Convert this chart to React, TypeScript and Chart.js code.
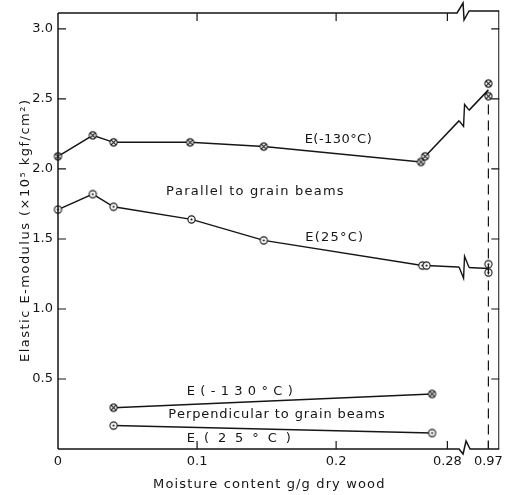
import { useEffect, useRef } from 'react';
import { Chart, registerables } from 'chart.js';

Chart.register(...registerables);

// Moisture content, g/g dry wood
const parallelColdMoisture = [0, 0.025, 0.04, 0.095, 0.148, 0.261, 0.264];
// Elastic E-modulus (×10⁵ kgf/cm²) along the grain, tested at -130 °C
const parallelColdModulus = [2.09, 2.24, 2.19, 2.19, 2.16, 2.05, 2.09];
const parallelWarmMoisture = [0, 0.025, 0.04, 0.096, 0.148, 0.262, 0.265];
// Same beams tested at 25 °C
const parallelWarmModulus = [1.71, 1.82, 1.73, 1.64, 1.49, 1.31, 1.31];

// Water-saturated specimens (0.97 g/g), two beams each
const saturatedMoisture = 0.97;
const saturatedColdModulus = [2.61, 2.52];
const saturatedWarmModulus = [1.32, 1.26];

// Across the grain
const perpendicularMoisture = [0.04, 0.269];
const perpendicularColdModulus = [0.295, 0.393];
const perpendicularWarmModulus = [0.167, 0.114];

const xTickValues = [0, 0.1, 0.2, 0.28, 0.97];
const xTickLabels = ['0', '0.1', '0.2', '0.28', '0.97'];
const yTickValues = [0.5, 1.0, 1.5, 2.0, 2.5, 3.0];
const yTickLabels = ['0.5', '1.0', '1.5', '2.0', '2.5', '3.0'];

const xTitle = 'Moisture content g/g dry wood';
const yTitle = 'Elastic E-modulus (×10⁵ kgf/cm²)';

// The moisture axis is cut after 0.28; the saturated value sits just past the cut.
const axisBreakAt = 0.292;
const farTickAt = 0.3095;
const xMax = 0.3173;
const yMax = 3.114;
const toAxis = (m: number) => (m > axisBreakAt ? farTickAt + (m - saturatedMoisture) : m);

const mean = (a: number[]) => a.reduce((s, v) => s + v, 0) / a.length;

const ink = '#151515';
const fontFamily = '"DejaVu Sans", sans-serif';

type Note = { text: string; x: number; y: number; width: number };
// Text placed in data units (moisture, modulus); width is the spread of the lettering in px
const notes: Note[] = [
  { text: 'E(-130°C)', x: 0.2015, y: 2.207, width: 67 },
  { text: 'Parallel to grain beams', x: 0.1413, y: 1.836, width: 177 },
  { text: 'E(25°C)', x: 0.1986, y: 1.507, width: 58 },
  { text: 'E(-130°C)', x: 0.1307, y: 0.407, width: 106 },
  { text: 'Perpendicular to grain beams', x: 0.157, y: 0.243, width: 216 },
  { text: 'E(25°C)', x: 0.13, y: 0.071, width: 104 },
];

function makeMarker(kind: 'cross' | 'dot') {
  const size = 11;
  const c = document.createElement('canvas');
  c.width = size;
  c.height = size;
  const g = c.getContext('2d')!;
  const m = size / 2;
  g.fillStyle = '#ffffff';
  g.strokeStyle = ink;
  g.lineWidth = 1.1;
  g.beginPath();
  g.arc(m, m, 3.6, 0, Math.PI * 2);
  g.fill();
  g.stroke();
  if (kind === 'cross') {
    const d = 2.4;
    g.beginPath();
    g.moveTo(m - d, m - d);
    g.lineTo(m + d, m + d);
    g.moveTo(m + d, m - d);
    g.lineTo(m - d, m + d);
    g.stroke();
  } else {
    g.fillStyle = ink;
    g.beginPath();
    g.arc(m, m, 1.1, 0, Math.PI * 2);
    g.fill();
  }
  return c;
}

// Writes text spread over a given width, centred on (cx, cy)
function spreadText(ctx: CanvasRenderingContext2D, text: string, cx: number, cy: number, width: number) {
  const chars = Array.from(text);
  const natural = ctx.measureText(text).width;
  const gap = (width - natural) / Math.max(1, chars.length - 1);
  ctx.textAlign = 'left';
  ctx.textBaseline = 'middle';
  let x = cx - width / 2;
  for (const ch of chars) {
    ctx.fillText(ch, x, cy);
    x += ctx.measureText(ch).width + gap;
  }
}

const seriesBreaks = {
  id: 'seriesBreaks',
  afterDatasetsDraw(chart: any) {
    const { ctx, scales } = chart;
    const bx = scales.x.getPixelForValue(axisBreakAt);
    [0, 2].forEach((di) => {
      const pts = chart.getDatasetMeta(di).data;
      for (let i = 1; i < pts.length; i++) {
        const a = pts[i - 1];
        const b = pts[i];
        if (a.x < bx && b.x > bx) {
          const yAt = (px: number) => a.y + ((b.y - a.y) * (px - a.x)) / (b.x - a.x);
          const y = yAt(bx);
          ctx.save();
          ctx.fillStyle = '#ffffff';
          ctx.fillRect(bx - 5, y - 16, 10, 32);
          ctx.strokeStyle = ink;
          ctx.lineWidth = 1.4;
          ctx.beginPath();
          ctx.moveTo(bx - 5, yAt(bx - 5));
          ctx.lineTo(bx - 0.5, y + 11);
          ctx.lineTo(bx + 0.5, y - 11);
          ctx.lineTo(bx + 5, yAt(bx + 5));
          ctx.stroke();
          ctx.restore();
        }
      }
    });
  },
};

const frame = {
  id: 'frame',
  afterDraw(chart: any) {
    const { ctx, chartArea: a, scales } = chart;
    const { x, y } = scales;
    const bx = x.getPixelForValue(axisBreakAt);
    ctx.save();
    ctx.strokeStyle = ink;
    ctx.lineWidth = 1.5;

    // left and right axes
    ctx.beginPath();
    ctx.moveTo(a.left, a.top);
    ctx.lineTo(a.left, a.bottom);
    ctx.stroke();
    ctx.lineWidth = 1;
    ctx.beginPath();
    ctx.moveTo(a.right - 0.5, a.top - 2);
    ctx.lineTo(a.right - 0.5, a.bottom);
    ctx.stroke();

    // bottom axis with cut
    ctx.lineWidth = 1.5;
    ctx.beginPath();
    ctx.moveTo(a.left, a.bottom);
    ctx.lineTo(bx - 5, a.bottom);
    ctx.lineTo(bx - 1, a.bottom + 5);
    ctx.lineTo(bx + 2, a.bottom - 8);
    ctx.lineTo(bx + 6, a.bottom);
    ctx.lineTo(a.right, a.bottom);
    ctx.stroke();

    // top axis with cut
    ctx.beginPath();
    ctx.moveTo(a.left, a.top);
    ctx.lineTo(bx - 7, a.top);
    ctx.lineTo(bx - 1, a.top - 10);
    ctx.lineTo(bx, a.top + 7);
    ctx.lineTo(bx + 5, a.top - 2);
    ctx.lineTo(a.right, a.top - 2);
    ctx.stroke();

    // inward tick marks
    ctx.lineWidth = 1.2;
    ctx.beginPath();
    yTickValues.forEach((v) => {
      const py = y.getPixelForValue(v);
      ctx.moveTo(a.left, py);
      ctx.lineTo(a.left + 8, py);
      ctx.moveTo(a.right - 8, py);
      ctx.lineTo(a.right, py);
    });
    xTickValues.forEach((v) => {
      if (v === 0) return;
      const px = x.getPixelForValue(toAxis(v));
      ctx.moveTo(px, a.bottom);
      ctx.lineTo(px, a.bottom - 8);
      if (v < axisBreakAt) {
        ctx.moveTo(px, a.top);
        ctx.lineTo(px, a.top + 8);
      }
    });
    ctx.stroke();

    // saturated moisture marker line
    const sx = x.getPixelForValue(toAxis(saturatedMoisture));
    ctx.setLineDash([10, 6]);
    ctx.lineWidth = 1.2;
    ctx.beginPath();
    ctx.moveTo(sx, y.getPixelForValue(2.46));
    ctx.lineTo(sx, a.bottom);
    ctx.stroke();
    ctx.setLineDash([]);

    ctx.fillStyle = ink;
    ctx.font = `13px ${fontFamily}`;

    // curve labels
    notes.forEach((n) => {
      spreadText(ctx, n.text, x.getPixelForValue(n.x), y.getPixelForValue(n.y), n.width);
    });

    // axis titles
    spreadText(ctx, xTitle, (a.left + a.right) / 2 - 10, chart.height - 10, 231);
    ctx.save();
    ctx.translate(26, (a.top + a.bottom) / 2);
    ctx.rotate(-Math.PI / 2);
    spreadText(ctx, yTitle, 0, 0, 262);
    ctx.restore();

    ctx.restore();
  },
};

export default function App() {
  const ref = useRef<HTMLCanvasElement>(null);

  useEffect(() => {
    if (!ref.current) return;
    const cross = makeMarker('cross');
    const dot = makeMarker('dot');

    const coldLine = [
      ...parallelColdMoisture.map((m, i) => ({ x: toAxis(m), y: parallelColdModulus[i] })),
      { x: toAxis(saturatedMoisture), y: mean(saturatedColdModulus) },
    ];
    const warmLine = [
      ...parallelWarmMoisture.map((m, i) => ({ x: toAxis(m), y: parallelWarmModulus[i] })),
      { x: toAxis(saturatedMoisture), y: mean(saturatedWarmModulus) },
    ];
    const markedExceptLast = (n: number) => Array.from({ length: n }, (_, i) => (i < n - 1 ? 4 : 0));

    const lineBase = {
      borderColor: ink,
      borderWidth: 1.5,
      tension: 0,
      fill: false,
      clip: false as const,
      pointHoverRadius: 4,
    };

    const chart = new Chart(ref.current, {
      type: 'line',
      data: {
        datasets: [
          {
            ...lineBase,
            data: coldLine,
            pointStyle: cross,
            pointRadius: markedExceptLast(coldLine.length),
          },
          {
            ...lineBase,
            data: saturatedColdModulus.map((v) => ({ x: toAxis(saturatedMoisture), y: v })),
            showLine: false,
            pointStyle: cross,
            pointRadius: 4,
          },
          {
            ...lineBase,
            data: warmLine,
            pointStyle: dot,
            pointRadius: markedExceptLast(warmLine.length),
          },
          {
            ...lineBase,
            data: saturatedWarmModulus.map((v) => ({ x: toAxis(saturatedMoisture), y: v })),
            showLine: false,
            pointStyle: dot,
            pointRadius: 4,
          },
          {
            ...lineBase,
            data: perpendicularMoisture.map((m, i) => ({ x: toAxis(m), y: perpendicularColdModulus[i] })),
            pointStyle: cross,
            pointRadius: 4,
          },
          {
            ...lineBase,
            data: perpendicularMoisture.map((m, i) => ({ x: toAxis(m), y: perpendicularWarmModulus[i] })),
            pointStyle: dot,
            pointRadius: 4,
          },
        ],
      },
      options: {
        responsive: false,
        animation: false,
        devicePixelRatio: 1,
        layout: { padding: { top: 13, right: 1, left: 0, bottom: 0 } },
        font: { family: fontFamily, size: 13 },
        color: ink,
        plugins: { legend: { display: false }, tooltip: { enabled: false } },
        scales: {
          x: {
            type: 'linear',
            min: 0,
            max: xMax,
            grid: { display: false, drawTicks: false },
            border: { display: false },
            afterFit: (s: any) => {
              s.height = 46;
            },
            afterBuildTicks: (s: any) => {
              s.ticks = xTickValues.map((v) => ({ value: toAxis(v) }));
            },
            ticks: {
              padding: 5,
              autoSkip: false,
              maxRotation: 0,
              color: ink,
              font: { family: fontFamily, size: 13 },
              callback: (_v: any, i: number) => xTickLabels[i],
            },
          },
          y: {
            type: 'linear',
            min: 0,
            max: yMax,
            grid: { display: false, drawTicks: false },
            border: { display: false },
            afterFit: (s: any) => {
              s.width = 58;
            },
            afterBuildTicks: (s: any) => {
              s.ticks = yTickValues.map((v) => ({ value: v }));
            },
            ticks: {
              padding: 5,
              color: ink,
              font: { family: fontFamily, size: 13 },
              callback: (_v: any, i: number) => yTickLabels[i],
            },
          },
        },
      },
      plugins: [seriesBreaks, frame],
    });
    return () => chart.destroy();
  }, []);

  return (
    <div style={{ position: 'fixed', left: 0, top: 0, width: 508, height: 495, background: '#ffffff' }}>
      <canvas ref={ref} width={508} height={495} style={{ display: 'block', width: 508, height: 495 }} />
    </div>
  );
}
